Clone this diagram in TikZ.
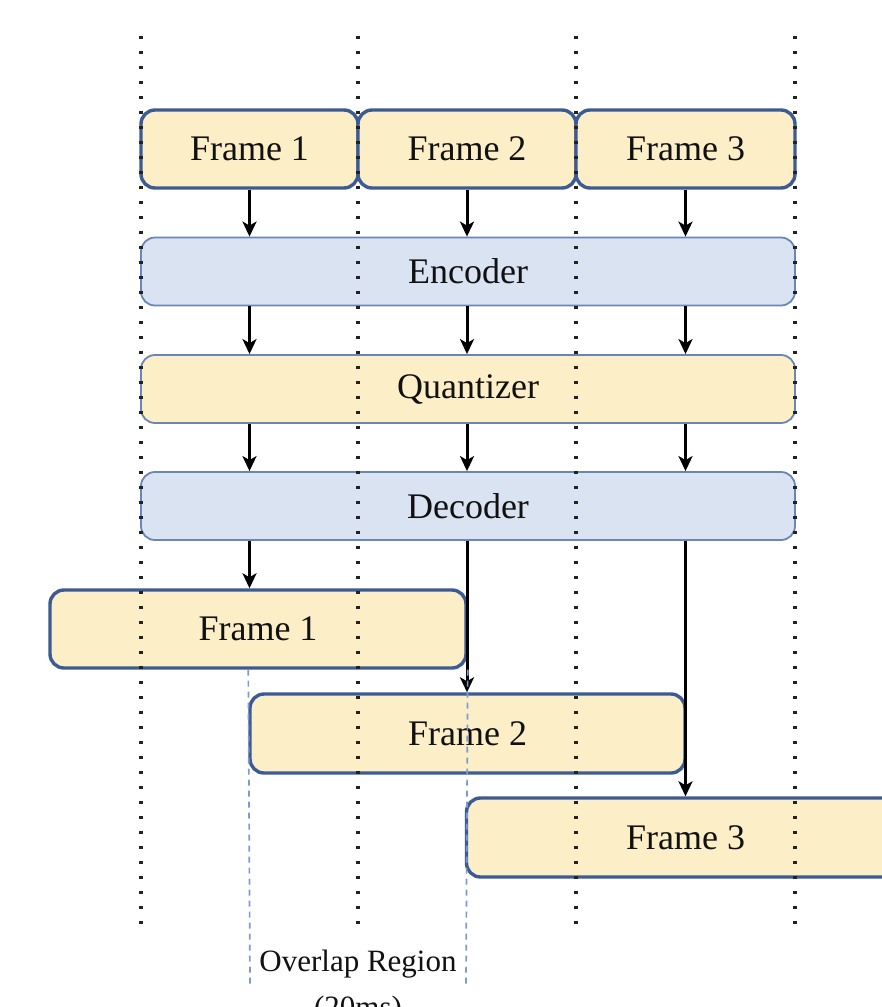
\documentclass[tikz,border=0pt]{standalone}
\usepackage{fontspec}
\setmainfont{Liberation Serif}
\usetikzlibrary{arrows.meta}

\definecolor{frameFill}{HTML}{FCEFC8}
\definecolor{frameEdge}{HTML}{3B5B92}
\definecolor{procFill}{HTML}{D9E3F2}
\definecolor{procEdge}{HTML}{6A86B8}
\definecolor{overlapDash}{HTML}{7E9AD0}
\definecolor{inkText}{HTML}{111111}
\definecolor{guideDot}{HTML}{222222}

\tikzset{
  framebox/.style={draw=frameEdge, line width=3.4pt, fill=frameFill, rounded corners=14pt,
    minimum height=78pt, inner sep=0pt, text=inkText, font=\fontsize{36}{43}\selectfont},
  stagebox/.style={draw=procEdge, line width=1.8pt, rounded corners=14pt,
    minimum width=654pt, minimum height=68pt, inner sep=0pt, text=inkText,
    font=\fontsize{36}{43}\selectfont},
  flow/.style={draw=black, line width=3pt, -{Stealth[length=15pt,width=14pt,inset=4pt]}},
  guide/.style={draw=guideDot, line width=3.6pt, dash pattern=on 3.6pt off 11.4pt},
  overlapline/.style={draw=overlapDash, line width=1.7pt, dash pattern=on 6pt off 5pt},
  caption/.style={text=inkText, font=\fontsize{31}{40}\selectfont, inner sep=0pt}
}

\begin{document}
\begin{tikzpicture}[x=1pt,y=-1pt]
  \clip (0,0) rectangle (882,1007);
  \fill[white] (0,0) rectangle (882,1007);

  % input frames
  \node[framebox, minimum width=217pt] (in1) at (249.5,149) {Frame 1};
  \node[framebox, minimum width=218pt] (in2) at (467,149) {Frame 2};
  \node[framebox, minimum width=219pt] (in3) at (685.5,149) {Frame 3};

  % codec stages
  \node[stagebox, fill=procFill] (enc) at (468,271.5) {Encoder};
  \node[stagebox, fill=frameFill] (qua) at (468,389) {Quantizer};
  \node[stagebox, fill=procFill] (dec) at (468,506) {Decoder};

  % reconstructed, overlapping frames
  \node[framebox, minimum width=416pt] (out1) at (258,629) {Frame 1};
  \node[framebox, minimum width=435pt, minimum height=79pt] (out2) at (467.5,733.5) {Frame 2};
  \node[framebox, minimum width=438pt, minimum height=79pt] (out3) at (685.5,837.5) {Frame 3};

  % data flow
  \foreach \f in {in1,in2,in3}{
    \draw[flow] (\f.south) -- (\f.south |- enc.north);
    \draw[flow] (enc.south -| \f.south) -- (qua.north -| \f.south);
    \draw[flow] (qua.south -| \f.south) -- (dec.north -| \f.south);
  }
  \draw[flow] (dec.south -| in1.south) -- (out1.north -| in1.south);
  \draw[flow] (dec.south -| in2.south) -- (out2.north -| in2.south);
  \draw[flow] (dec.south -| in3.south) -- (out3.north -| in3.south);

  % frame boundary guides
  \foreach \gx in {141,358,576,795}{
    \draw[guide] (\gx,35.5) -- (\gx,935);
  }

  % overlap region markers
  \coordinate (ovA) at (250,986);
  \coordinate (ovB) at (466,986);
  \draw[overlapline] (out1.south -| out2.west) -- (ovA);
  \draw[overlapline] (out1.south east) -- (ovB);

  \node[caption, anchor=base] (ovl) at (358,971) {Overlap Region};
  \node[caption, anchor=base] (ovms) at (358,1017) {(20ms)};
\end{tikzpicture}
\end{document}
